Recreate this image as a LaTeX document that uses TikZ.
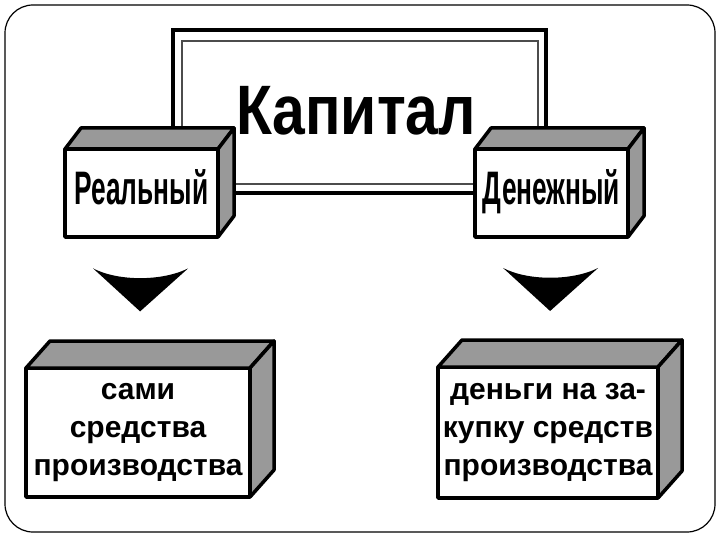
\documentclass[tikz,border=0pt]{standalone}
\usepackage{fontspec}
\setmainfont{Liberation Sans}
\usetikzlibrary{calc}

\begin{document}
\begin{tikzpicture}[x=1pt,y=-1pt,
  face/.style={draw,line width=3.5pt,fill=white,inner sep=0pt,outer sep=0pt,line join=round},
  side/.style={draw,line width=3.5pt,fill=black!40,line join=round}]
\useasboundingbox (0,0) rectangle (720,540);
\draw[line width=1.2pt,rounded corners=28pt] (5,5) rectangle (715,532);
\node[draw,line width=3.5pt,minimum width=373,minimum height=163,inner sep=0pt,outer sep=0pt] (cap) at (359.5,111.5) {};
\draw[black!70,line width=1.2pt] ($(cap.north west)+(9,11)$) rectangle ($(cap.south east)+(-8,-9)$);
\node[anchor=base,inner sep=0pt] (captitle) at (356,135) {\scalebox{0.84}[1]{\fontsize{70}{70}\selectfont\bfseries Капитал}};
\node[face,minimum width=153,minimum height=88,text height=34pt,text depth=10pt] (real) at (141.5,193) {\scalebox{0.56}[1]{\fontsize{47}{47}\selectfont\bfseries Реальный}};
\node[face,minimum width=153,minimum height=88,text height=34pt,text depth=10pt] (money) at (551.5,193) {\scalebox{0.56}[1]{\fontsize{47}{47}\selectfont\bfseries Денежный}};
\node[face,minimum width=224,minimum height=129,align=center,font=\fontsize{30}{38}\selectfont\bfseries] (prod) at (138,432.5) {сами\\средства\\производства};
\node[face,minimum width=220,minimum height=131,align=center,font=\fontsize{30}{38}\selectfont\bfseries] (buy) at (548,432.5) {деньги на за-\\купку средств\\производства};
\foreach \n/\d/\h in {real/16/21, money/16/21, prod/24/27, buy/24/27} {
  \draw[side] (\n.north west) -- ($(\n.north west)+(\d,-\h)$) -- ($(\n.north east)+(\d,-\h)$) -- (\n.north east) -- cycle;
  \draw[side] (\n.north east) -- ($(\n.north east)+(\d,-\h)$) -- ($(\n.south east)+(\d,-\h)$) -- (\n.south east) -- cycle;
}
\foreach \a/\b in {real/prod, money/buy} {
  \coordinate (mid) at ($(\a.south)!0.4!(\b.north)$);
  \fill ($(mid)+(-47,-21)$) .. controls ($(mid)+(-22,-8)$) and ($(mid)+(22,-8)$) .. ($(mid)+(48,-21)$) -- ($(mid)+(0,22)$) -- cycle;
}
\end{tikzpicture}
\end{document}
